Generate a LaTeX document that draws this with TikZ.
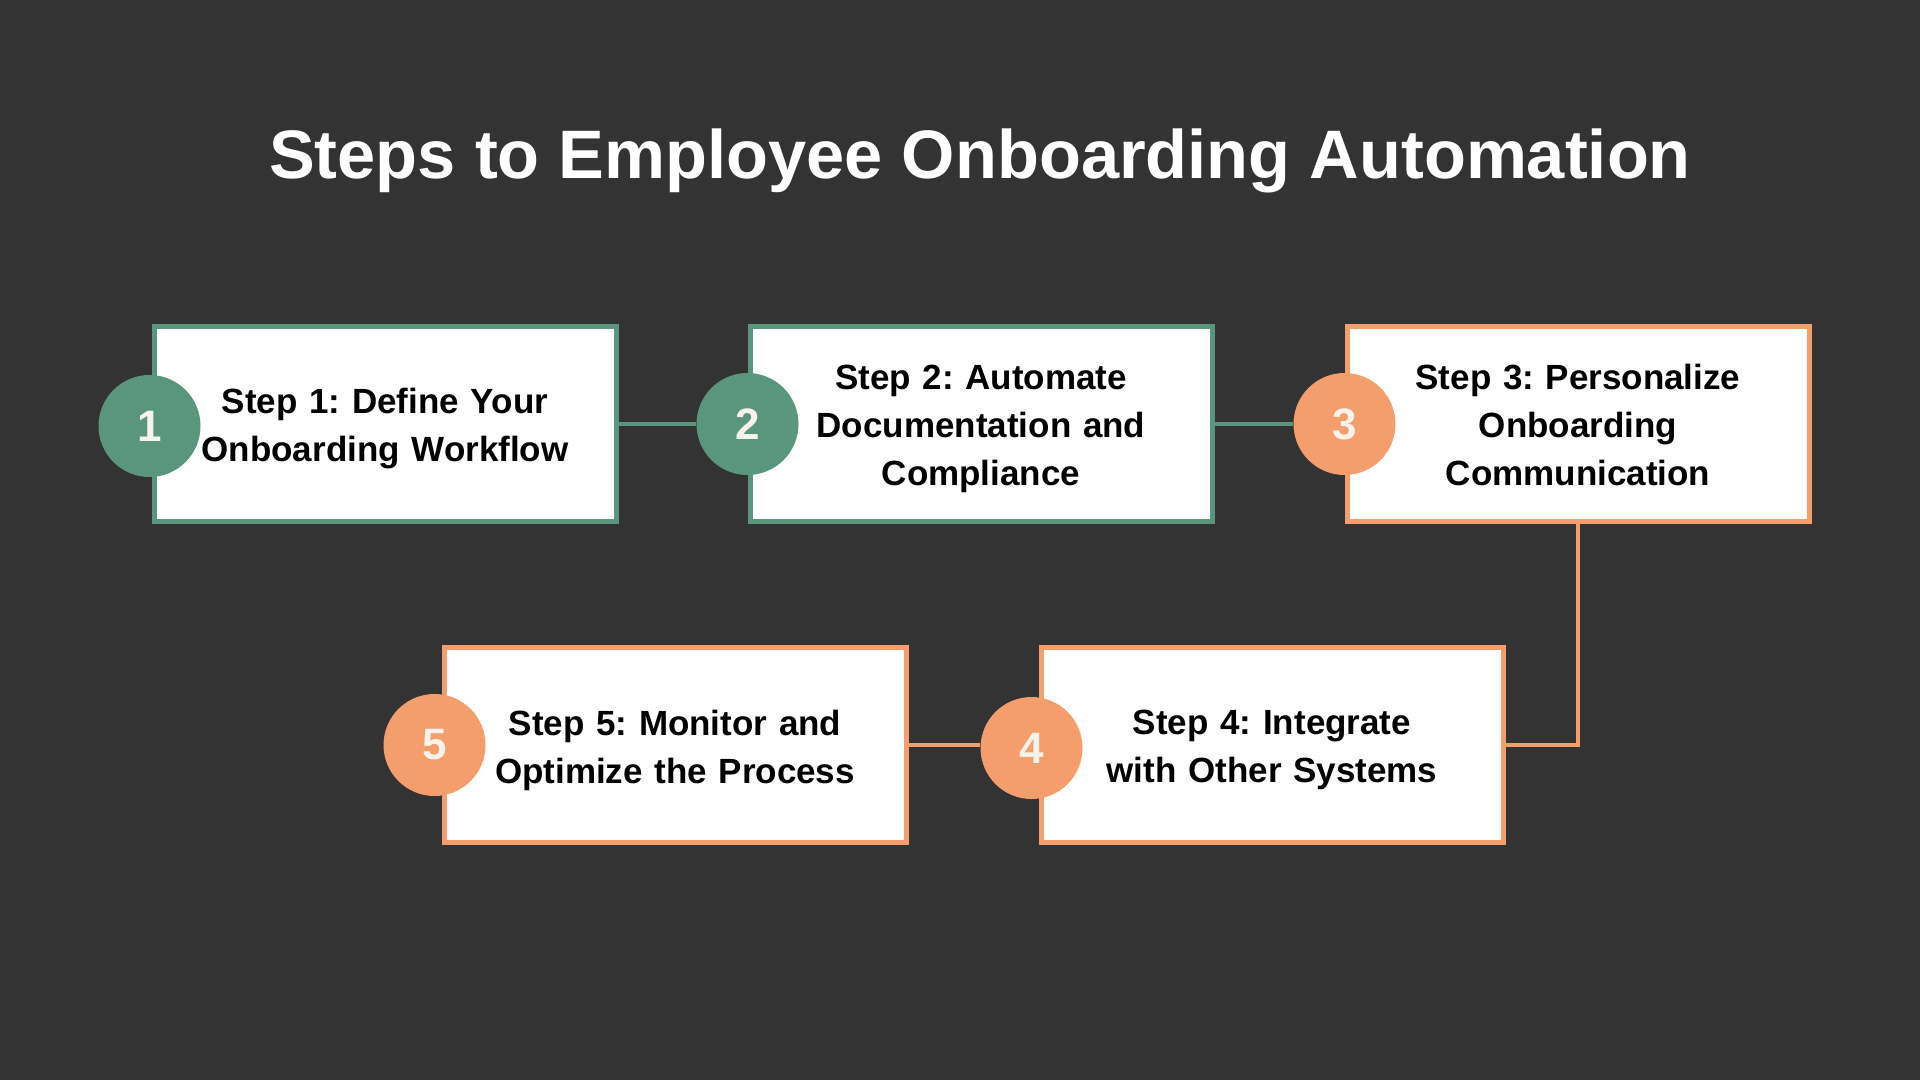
\documentclass[tikz,border=0pt]{standalone}
\usepackage{fontspec}
\setmainfont{Liberation Sans}
\frenchspacing
\definecolor{bg}{HTML}{333333}
\definecolor{grn}{HTML}{5A957D}
\definecolor{org}{HTML}{F39E6C}
\definecolor{numw}{HTML}{F7F3EC}
\begin{document}
\begin{tikzpicture}[x=0.5pt,y=-0.5pt,
  stepbox/.style={draw, line width=2.5pt, fill=white, minimum width=231pt, minimum height=97.5pt, inner sep=0pt},
  steptext/.style={inner sep=0pt, align=center, text width=220pt,
    font=\fontsize{17.5}{24}\selectfont\bfseries, text=black},
  numcirc/.style={circle, minimum size=51pt, inner sep=0pt, text=numw, font=\fontsize{22}{24}\selectfont\bfseries},
  link/.style={line width=2pt}]
\fill[bg] (0,0) rectangle (1920,1080);
\useasboundingbox (0,0) rectangle (1920,1080);
\node[anchor=base, text=white, font=\fontsize{34.3}{40}\selectfont\bfseries] (title) at (980,179) {Steps to Employee Onboarding Automation};
% boxes
\node[stepbox, draw=grn] (b1) at (385,424) {};
\node[stepbox, draw=grn] (b2) at (981,424) {};
\node[stepbox, draw=org] (b3) at (1578,424) {};
\node[stepbox, draw=org] (b4) at (1272,745) {};
\node[stepbox, draw=org] (b5) at (675,745) {};
\node[steptext] (t1) at ([yshift=-2.5pt]b1.center) {Step 1: Define Your\\Onboarding Workflow};
\node[steptext] (t2) at ([yshift=-2.5pt]b2.center) {Step 2: Automate\\Documentation and\\Compliance};
\node[steptext] (t3) at ([yshift=-0.5pt]b3.center) {Step 3: Personalize\\Onboarding\\Communication};
\node[steptext] (t4) at ([yshift=-2.5pt]b4.center) {Step 4: Integrate\\with Other Systems};
\node[steptext] (t5) at ([yshift=-2.5pt]b5.center) {Step 5: Monitor and\\Optimize the Process};
% circles
\node[numcirc, fill=grn] (c1) at ([xshift=-1pt,yshift=-1pt]b1.west) {1};
\node[numcirc, fill=grn] (c2) at (b2.west) {2};
\node[numcirc, fill=org] (c3) at (b3.west) {3};
\node[numcirc, fill=org] (c4) at ([xshift=-3.5pt,yshift=-1.5pt]b4.west) {4};
\node[numcirc, fill=org] (c5) at ([xshift=-3.5pt]b5.west) {5};
% connectors
\draw[link, grn] (b1.east) -- (c2.west);
\draw[link, grn] (b2.east) -- (c3.west);
\draw[link, org] (b3.south) |- (b4.east);
\draw[link, org] (b5.east) -- (c4.west |- b5.east);
\end{tikzpicture}
\end{document}
